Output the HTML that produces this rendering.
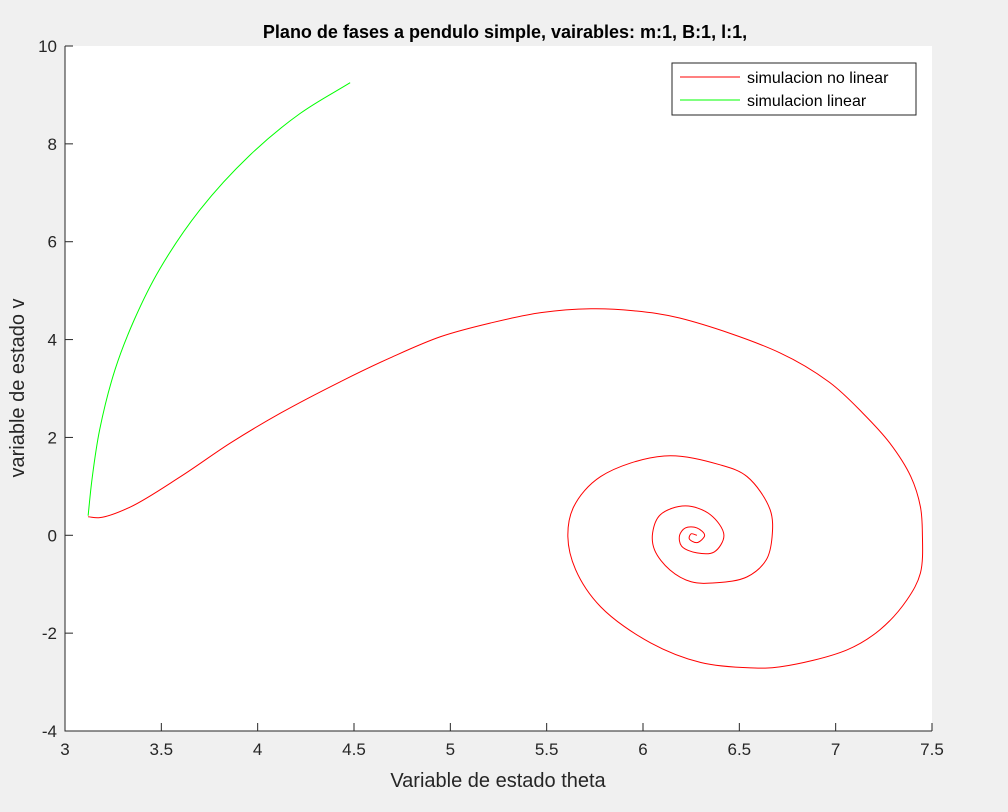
<!DOCTYPE html>
<html><head><meta charset="utf-8"><style>
body{margin:0;background:#f0f0f0;font-family:"Liberation Sans",sans-serif;}
</style></head><body>
<svg width="1008" height="812" style="display:block">
<rect x="0" y="0" width="1008" height="812" fill="#f0f0f0"/>
<rect x="65" y="46" width="867" height="685" fill="#fff"/>
<g id="axes"></g>
<g id="series"></g>
<text x="505" y="38" text-anchor="middle" font-weight="bold" font-size="18">Plano de fases a pendulo simple, vairables: m:1, B:1, l:1,</text>
<text x="498" y="787" text-anchor="middle" font-size="20" fill="#262626">Variable de estado theta</text>
<text transform="translate(24,388) rotate(-90)" text-anchor="middle" font-size="20" fill="#262626">variable de estado v</text>
<g>
<rect x="672" y="63" width="244" height="52" fill="#fff" stroke="#262626" stroke-width="1"/>
<line x1="680" y1="77" x2="740" y2="77" stroke="#f00"/>
<text x="747" y="83" font-size="16">simulacion no linear</text>
<line x1="680" y1="100" x2="740" y2="100" stroke="#0f0"/>
<text x="747" y="106" font-size="16">simulacion linear</text>
</g>
</svg>
<script>
const xTicks=[3,3.5,4,4.5,5,5.5,6,6.5,7,7.5];
const xTickLabels=["3","3.5","4","4.5","5","5.5","6","6.5","7","7.5"];
const yTicks=[-4,-2,0,2,4,6,8,10];
const yTickLabels=["-4","-2","0","2","4","6","8","10"];
const redTheta=[3.12,3.18,3.34,3.60,3.86,4.12,4.43,4.69,4.95,5.21,5.47,5.73,5.95,6.19,6.71,6.97,7.14,7.28,7.39,7.44,7.45,7.44,7.37,7.23,7.06,6.71,6.56,6.30,6.04,5.78,5.65,5.61,5.64,5.78,6.11,6.40,6.54,6.66,6.67,6.64,6.54,6.38,6.25,6.14,6.06,6.05,6.09,6.22,6.35,6.42,6.37,6.28,6.20,6.19,6.22,6.28,6.32,6.28,6.24,6.25,6.28];
const redV=[0.38,0.36,0.58,1.20,1.89,2.50,3.14,3.63,4.06,4.34,4.55,4.63,4.59,4.44,3.73,3.12,2.50,1.89,1.20,0.58,0.05,-0.77,-1.32,-1.93,-2.34,-2.69,-2.71,-2.60,-2.20,-1.46,-0.70,-0.03,0.58,1.20,1.62,1.44,1.20,0.52,-0.03,-0.50,-0.85,-0.97,-0.95,-0.71,-0.30,0.05,0.42,0.60,0.42,0,-0.34,-0.36,-0.22,0,0.15,0.15,0,-0.15,-0.07,0.03,0];
const greenTheta=[3.12,3.14,3.18,3.26,3.36,3.49,3.70,3.96,4.22,4.48];
const greenV=[0.40,1.14,2.16,3.39,4.41,5.43,6.65,7.77,8.62,9.25];
const X0=65,X1=932,Y0=731,Y1=46;
const sx=v=>X0+(v-3)/(7.5-3)*(X1-X0);
const sy=v=>Y0-(v+4)/14*(Y0-Y1);
const NS="http://www.w3.org/2000/svg";
const ax=document.getElementById('axes');
function mk(t,a,p){const e=document.createElementNS(NS,t);for(const k in a)e.setAttribute(k,a[k]);p.appendChild(e);return e;}
let e=mk('path',{d:`M${X0},${Y1}V${Y0}H${X1}`,fill:'none',stroke:'#262626'},ax);


xTicks.forEach((v,i)=>{
 let l=mk('line',{x1:sx(v),x2:sx(v),y1:Y0,y2:Y0-8,stroke:'#262626'},ax);
 
 
 let t=mk('text',{x:sx(v),y:Y0+24,'text-anchor':'middle','font-size':17,fill:'#262626'},ax);
 t.textContent=xTickLabels[i];
 
 
});
yTicks.forEach((v,i)=>{
 let l=mk('line',{x1:X0,x2:X0+8,y1:sy(v),y2:sy(v),stroke:'#262626'},ax);
 
 
 let t=mk('text',{x:X0-8,y:sy(v)+6,'text-anchor':'end','font-size':17,fill:'#262626'},ax);
 t.textContent=yTickLabels[i];
 
 
});
function smooth(xs,ys){
 const p=xs.map((x,i)=>[sx(x),sy(ys[i])]);
 const N=p.length;
 const dist=(a,b)=>Math.max(1e-6,Math.hypot(a[0]-b[0],a[1]-b[1]));
 let d=`M${p[0][0]},${p[0][1]}`;
 for(let i=0;i<N-1;i++){
  const p1=p[i],p2=p[i+1];
  const p0=i>0?p[i-1]:[2*p1[0]-p2[0],2*p1[1]-p2[1]];
  const p3=i<N-2?p[i+2]:[2*p2[0]-p1[0],2*p2[1]-p1[1]];
  const d1=Math.sqrt(dist(p0,p1)),d2=Math.sqrt(dist(p1,p2)),d3=Math.sqrt(dist(p2,p3));
  const b1=[0,1].map(k=>(d1*d1*p2[k]-d2*d2*p0[k]+(2*d1*d1+3*d1*d2+d2*d2)*p1[k])/(3*d1*(d1+d2)));
  const b2=[0,1].map(k=>(d3*d3*p1[k]-d2*d2*p3[k]+(2*d3*d3+3*d3*d2+d2*d2)*p2[k])/(3*d3*(d3+d2)));
  d+=`C${b1[0]},${b1[1]} ${b2[0]},${b2[1]} ${p2[0]},${p2[1]}`;
 }
 return d;
}
const sg=document.getElementById('series');
let r=mk('path',{d:smooth(redTheta,redV),fill:'none',stroke:'#f00','stroke-width':1},sg);


let g=mk('path',{d:smooth(greenTheta,greenV),fill:'none',stroke:'#0f0','stroke-width':1},sg);


</script>
</body></html>
